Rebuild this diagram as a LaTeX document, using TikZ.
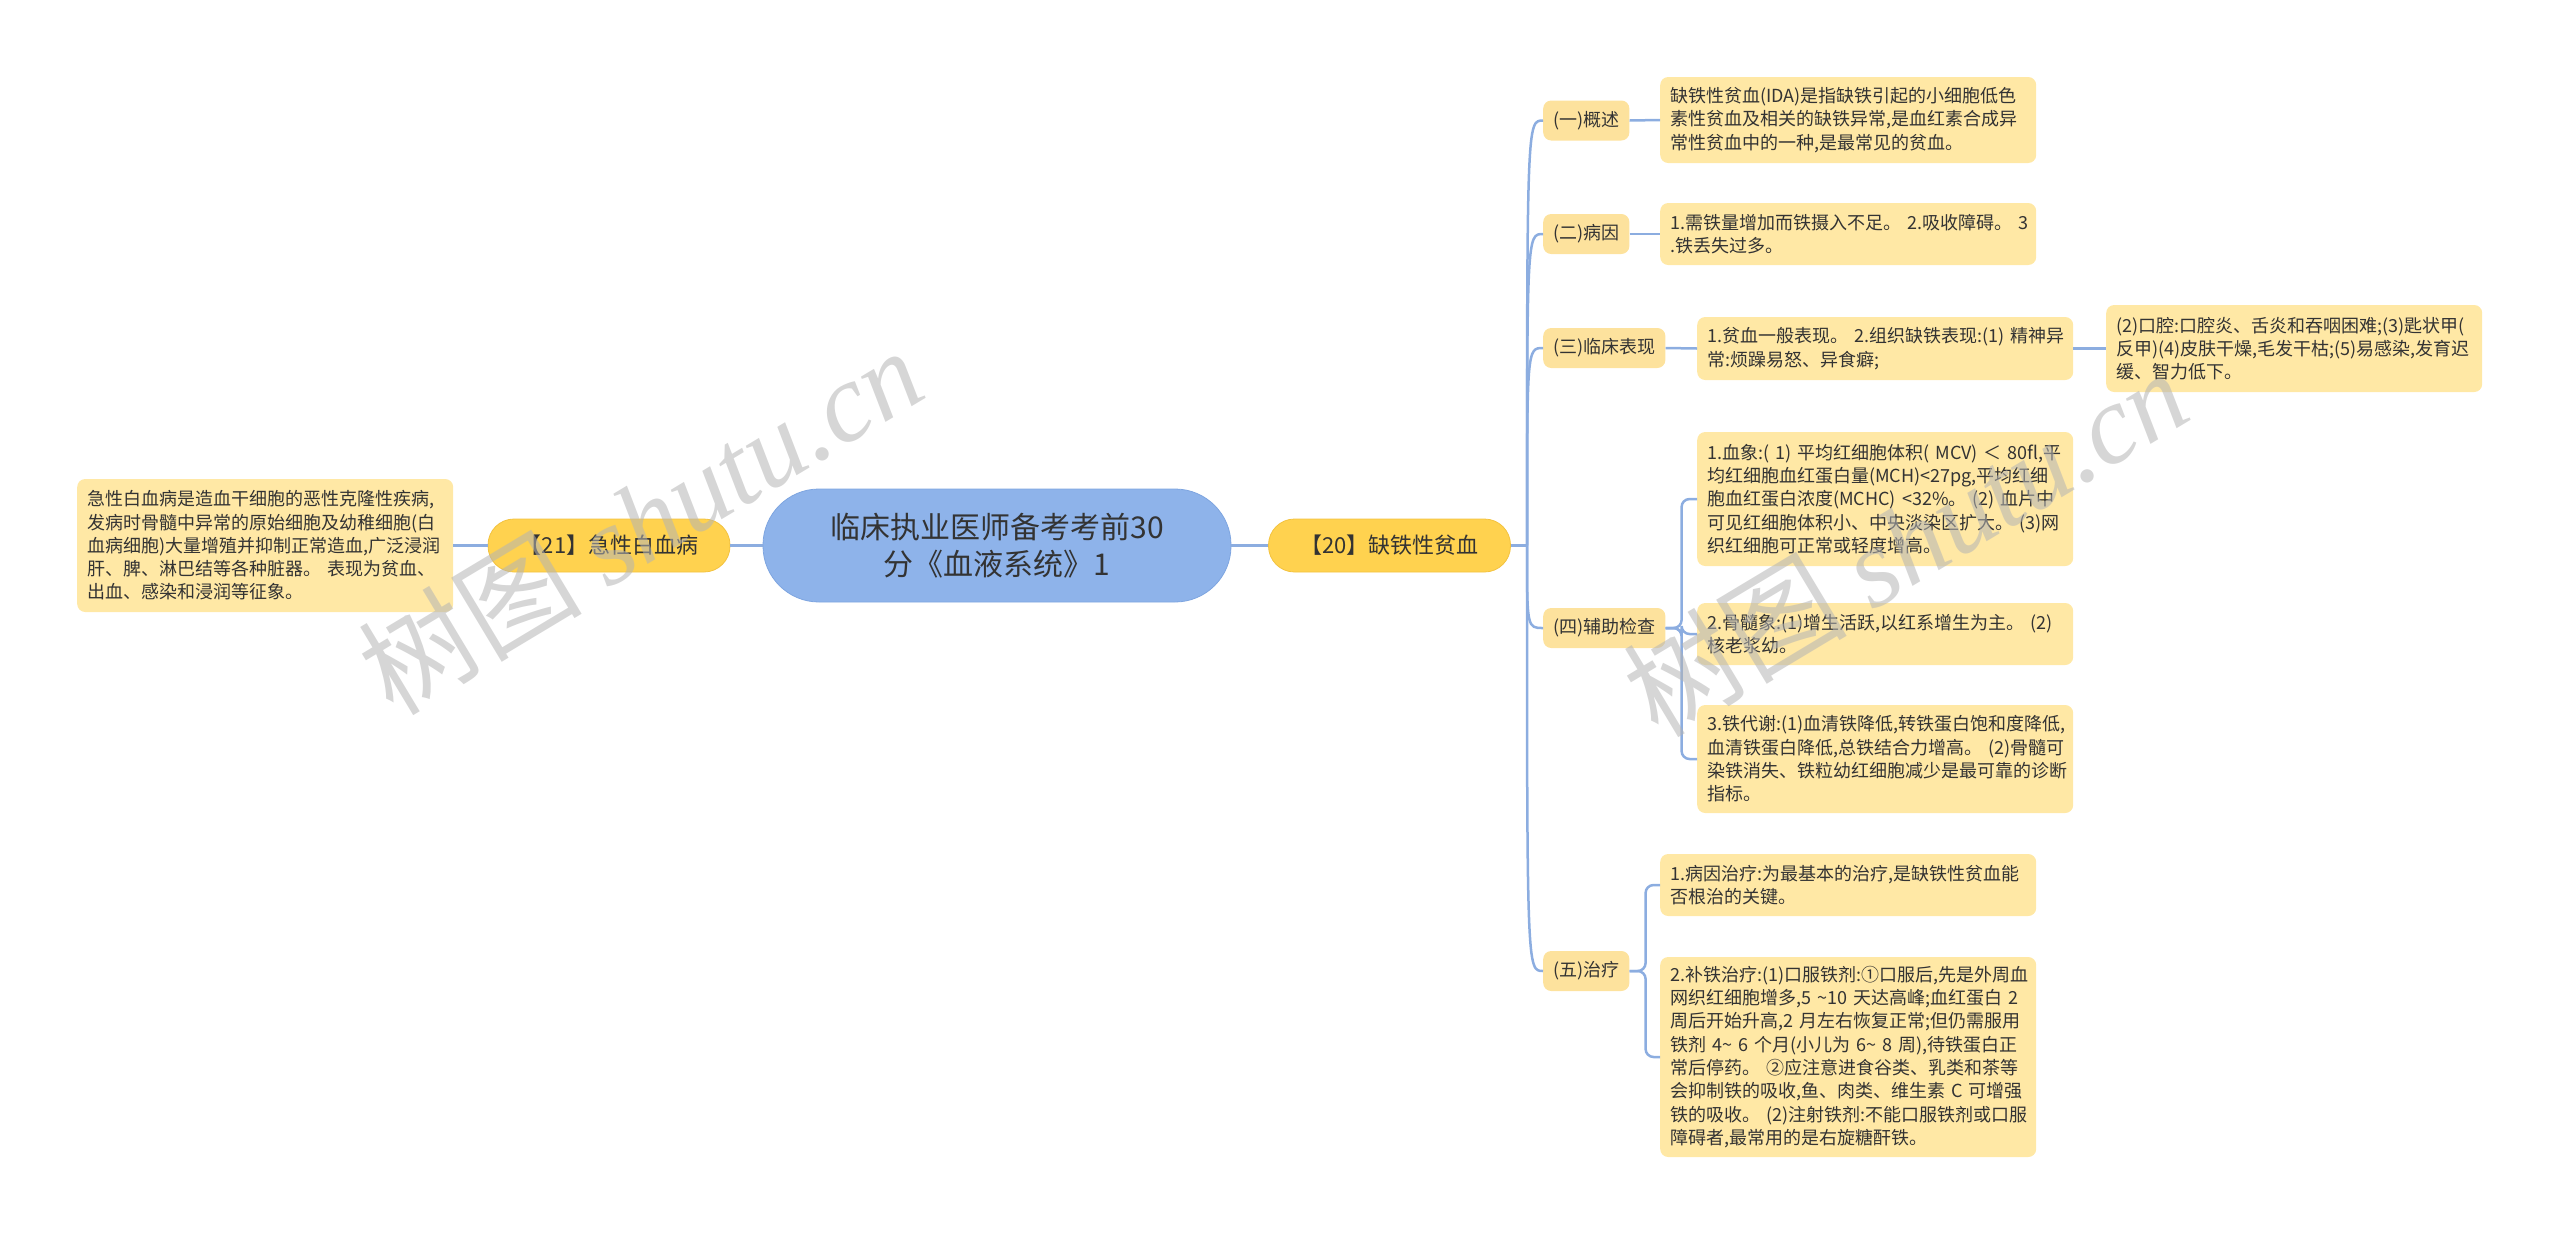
\documentclass[tikz,border=0pt]{standalone}
\usepackage{fontspec}
\setmainfont{Noto Sans CJK SC}
\newfontfamily\wmlatin{Liberation Serif}
\usetikzlibrary{positioning}
\definecolor{rootblue}{HTML}{8EB3EA}
\definecolor{rootedge}{HTML}{7EA5E0}
\definecolor{maingold}{HTML}{FFD24F}
\definecolor{mainedge}{HTML}{F3C23E}
\definecolor{subyel}{HTML}{FDE29D}
\definecolor{leafyel}{HTML}{FFE8A5}
\definecolor{linkblue}{HTML}{8CADE0}
\definecolor{inkgray}{HTML}{333333}
\definecolor{markgray}{HTML}{B4B4B4}

\begin{document}
\begin{tikzpicture}[
  x=1pt, y=-1pt,
  every node/.style={text=inkgray},
  root/.style={fill=rootblue, draw=rootedge, line width=0.8pt, rounded corners=56pt, minimum width=468pt, minimum height=113pt, align=center, font=\fontsize{30}{37}\selectfont},
  topic/.style={fill=maingold, draw=mainedge, line width=0.8pt, rounded corners=26pt, minimum width=242pt, minimum height=53pt, font=\fontsize{22}{26}\selectfont},
  sub/.style={fill=subyel, rounded corners=8pt, minimum height=40pt, inner xsep=10pt, anchor=west, font=\fontsize{18}{22}\selectfont},
  leaf/.style={fill=leafyel, rounded corners=8pt, text width=356pt, inner xsep=10pt, align=left, anchor=west, font=\fontsize{18}{23.3}\selectfont},
  link/.style={draw=linkblue, line width=2.5pt},
  wmark/.style={text=markgray, opacity=0.55, rotate=31, font=\fontsize{112}{112}\selectfont}
]
\useasboundingbox (0,0) rectangle (2560,1235);
% centre and the two topics sit on one row (y = 545.5); the sub-topics of
% the right topic share a left edge at x = 1543, their leaves start at 1660/1697
% (spaces inside the leaves are ~ so that each line stays as printed)
\node[root] (root) at (997,545.5) {临床执业医师备考考前30\\分《血液系统》1};
\node[topic] (t20) at (1389.5,545.5) {【20】缺铁性贫血};
\node[topic] (t21) at (609,545.5) {【21】急性白血病};
\node[leaf, minimum height=133pt] (lk) at (77,545.5) {急性白血病是造血干细胞的恶性克隆性疾病,\\发病时骨髓中异常的原始细胞及幼稚细胞(白\\血病细胞)大量增殖并抑制正常造血,广泛浸润\\肝、脾、淋巴结等各种脏器。~表现为贫血、\\出血、感染和浸润等征象。};

\node[sub, minimum width=84pt] (s1) at (1543,120.5) {(一)概述};
\node[sub, minimum width=84pt] (s2) at (1543,234) {(二)病因};
\node[sub, minimum width=120pt] (s3) at (1543,348) {(三)临床表现};
\node[sub, minimum width=120pt] (s4) at (1543,628) {(四)辅助检查};
\node[sub, minimum width=84pt] (s5) at (1543,971) {(五)治疗};

\node[leaf, minimum height=86pt] (o1) at (1660,120) {缺铁性贫血(IDA)是指缺铁引起的小细胞低色\\素性贫血及相关的缺铁异常,是血红素合成异\\常性贫血中的一种,是最常见的贫血。};
\node[leaf, minimum height=62pt] (c1) at (1660,234) {1.需铁量增加而铁摄入不足。~2.吸收障碍。~3\\.铁丢失过多。};
\node[leaf, minimum height=63pt] (k1) at (1697,348.5) {1.贫血一般表现。~2.组织缺铁表现:(1)~精神异\\常:烦躁易怒、异食癖;};
\node[leaf, minimum height=87pt] (k2) at (2106,348.5) {(2)口腔:口腔炎、舌炎和吞咽困难;(3)匙状甲(\\反甲)(4)皮肤干燥,毛发干枯;(5)易感染,发育迟\\缓、智力低下。};
\node[leaf, minimum height=134pt] (a1) at (1697,499) {1.血象:(~1)~平均红细胞体积(~MCV)~＜~80fl,平\\均红细胞血红蛋白量(MCH)<27pg,平均红细\\胞血红蛋白浓度(MCHC)~<32\%。~(2)~血片中\\可见红细胞体积小、中央淡染区扩大。~(3)网\\织红细胞可正常或轻度增高。};
\node[leaf, minimum height=62pt] (a2) at (1697,634) {2.骨髓象:(1)增生活跃,以红系增生为主。~(2)\\核老浆幼。};
\node[leaf, minimum height=108pt] (a3) at (1697,759) {3.铁代谢:(1)血清铁降低,转铁蛋白饱和度降低,\\血清铁蛋白降低,总铁结合力增高。~(2)骨髓可\\染铁消失、铁粒幼红细胞减少是最可靠的诊断\\指标。};
\node[leaf, minimum height=62pt] (b1) at (1660,885) {1.病因治疗:为最基本的治疗,是缺铁性贫血能\\否根治的关键。};
\node[leaf, minimum height=200pt] (b2) at (1660,1057) {2.补铁治疗:(1)口服铁剂:①口服后,先是外周血\\网织红细胞增多,5~\textasciitilde10~天达高峰;血红蛋白~2\\周后开始升高,2~月左右恢复正常;但仍需服用\\铁剂~4\textasciitilde{}~6~个月(小儿为~6\textasciitilde{}~8~周),待铁蛋白正\\常后停药。~②应注意进食谷类、乳类和茶等\\会抑制铁的吸收,鱼、肉类、维生素~C~可增强\\铁的吸收。~(2)注射铁剂:不能口服铁剂或口服\\障碍者,最常用的是右旋糖酐铁。};

\draw[link] (lk.east) -- (t21.west);
\draw[link] (t21.east) -- (root.west);
\draw[link] (root.east) -- (t20.west);
\coordinate (fork) at (1527,545.5);
\draw[link] (t20.east) -- (fork);
\foreach \s in {s1,s2,s3,s4,s5}
  \draw[link] (fork) .. controls (fork |- \s.west) and (fork |- \s.west) .. (\s.west);
\draw[link] (s1.east) -- (o1.west);
\draw[link] (s2.east) -- (c1.west);
\draw[link] (s3.east) -- (k1.west);
\draw[link] (k1.east) -- (k2.west);
\foreach \a in {a1,a2,a3}
  \draw[link, rounded corners=8pt] (s4.east) -- ++(16,0) |- (\a.west);
\foreach \b in {b1,b2}
  \draw[link, rounded corners=8pt] (s5.east) -- ++(16,0) |- (\b.west);

\node[wmark] (wm1) at (640,520) {树图 {\wmlatin\itshape shutu.cn}};
\node[wmark] (wm2) at (1905,542) {树图 {\wmlatin\itshape shutu.cn}};
\end{tikzpicture}
\end{document}
